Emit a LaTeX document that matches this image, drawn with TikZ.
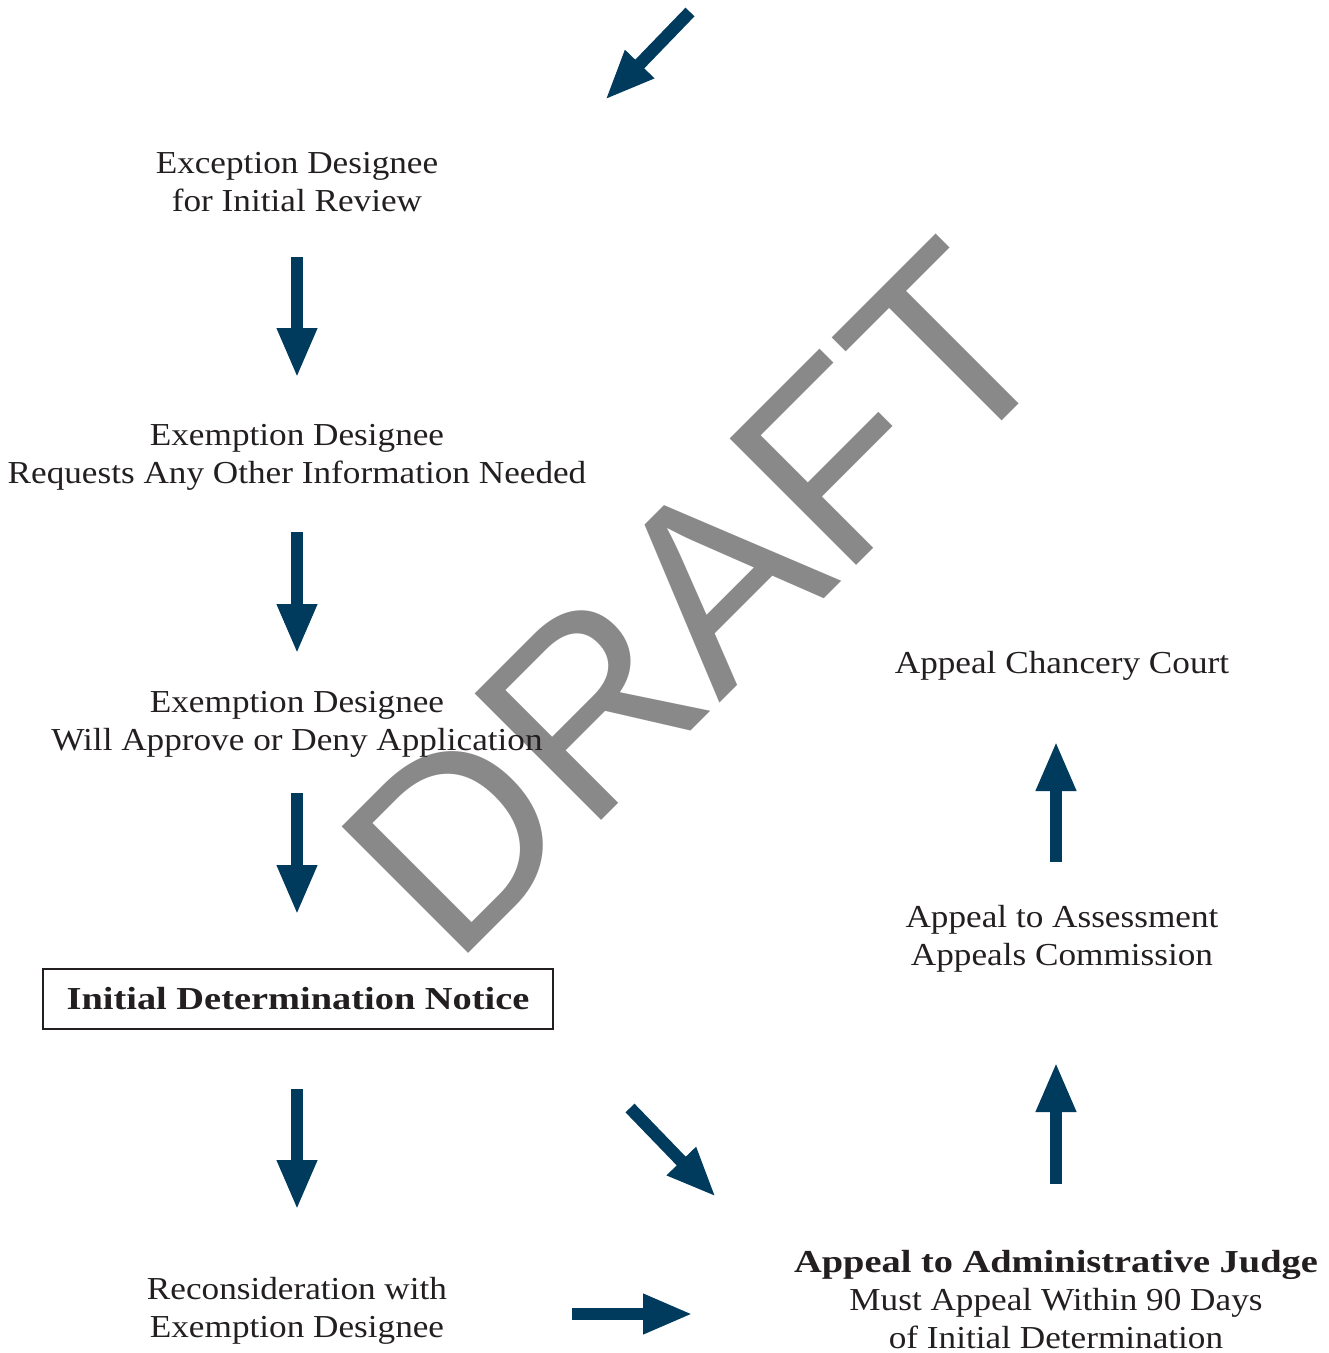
\documentclass[tikz,border=0pt]{standalone}
\usepackage{fontspec}
\setmainfont[FakeStretch=1.1, BoldFeatures={FakeStretch=1.2}]{Liberation Serif}
\newfontfamily\draftfont{Liberation Sans}
\usetikzlibrary{arrows.meta}
\definecolor{arrowblue}{HTML}{003A5D}
\definecolor{draftgray}{HTML}{898989}
\definecolor{textdark}{HTML}{231F20}

\begin{document}
\begin{tikzpicture}[
        x=1pt, y=-1pt,
        every node/.style={align=center, text=textdark, inner sep=0pt, font=\fontsize{32}{38}\selectfont},
        bigarrow/.style={arrowblue, line width=12.5pt, -{Triangle[length=50pt,width=37pt]}},
        notice box/.style={draw=textdark, line width=1.8pt, minimum width=510pt, minimum height=60pt}
    ]
    \useasboundingbox (0,0) rectangle (1329,1353);
    % watermark goes under everything
    \node[rotate=45, text=draftgray, font=\draftfont\fontsize{260}{260}\selectfont] (draft) at (697,599) {DRAFT};

    \node (review) at (297,182) {Exception Designee\\for Initial Review};
    \node (info) at (297,457) {Exemption Designee\\Requests Any Other Information Needed};
    \node (approve) at (297,724) {Exemption Designee\\Will Approve or Deny Application};
    \node [notice box] (notice) at (298,999) {\textbf{Initial Determination Notice}};
    \node (recon) at (297,1311) {Reconsideration with\\Exemption Designee};
    \node (judge) at (1056,1300) {\textbf{Appeal to Administrative Judge}\\Must Appeal Within 90 Days\\of Initial Determination};
    \node (commission) at (1062,939) {Appeal to Assessment\\Appeals Commission};
    \node (court) at (1062,666) {Appeal Chancery Court};

    \coordinate (incoming) at (690,12);
    \draw[bigarrow] (incoming) -- ([shift={(308,-82)}]review.center);
    \draw[bigarrow, shorten <=75pt, shorten >=79pt] (review.center) -- (info.center);
    \draw[bigarrow, shorten <=75pt, shorten >=70pt] (info.center) -- (approve.center);
    \draw[bigarrow, shorten <=69pt, shorten >=84pt] (approve.center) -- (approve.center |- notice.center);
    \draw[bigarrow, shorten <=90pt, shorten >=101pt] (notice.center -| recon.center) -- (recon.center);
    \draw[bigarrow] ([shift={(275,3)}]recon.center) -- ([shift={(-363,14)}]judge.center);
    \draw[bigarrow] ([shift={(332,109)}]notice.center) -- ([shift={(-340,-103)}]judge.center);
    \draw[bigarrow] ([shift={(0,-116)}]judge.center) -- ([shift={(-6,123)}]commission.center);
    \draw[bigarrow] ([shift={(-6,-77)}]commission.center) -- ([shift={(-6,75)}]court.center);
\end{tikzpicture}
\end{document}
